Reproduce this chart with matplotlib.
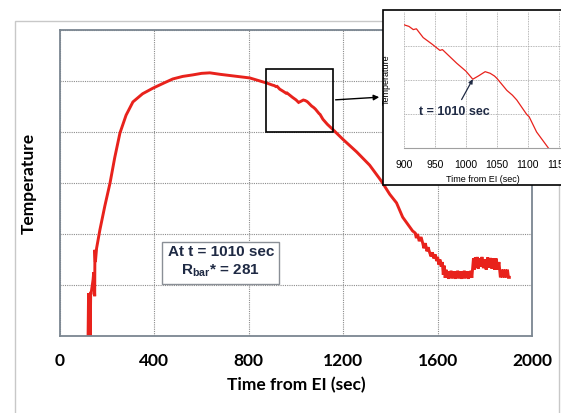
import numpy as np
import matplotlib.pyplot as plt
from matplotlib.patches import Rectangle

# Temperature trace (time from EI in sec, arbitrary temperature units)
time_rise = [119, 121, 122, 124, 125, 127, 128, 130, 132, 140, 143, 147, 148, 150, 155, 162, 169,
             190, 212, 232, 254, 280, 309, 350, 394, 440, 478, 520, 563, 600, 635, 680, 732, 770, 804, 840]
temp_rise = [0.0, 0.84, 0.0, 0.84, 0.0, 0.84, 0.0, 0.84, 0.84, 1.1, 1.25, 0.78, 1.69, 1.45, 1.72, 1.9, 2.08,
             2.55, 3.0, 3.5, 3.98, 4.33, 4.59, 4.75, 4.86, 4.96, 5.04, 5.09, 5.12, 5.15, 5.16, 5.13, 5.10, 5.08, 5.06, 5.01]

time_mid = [876, 900, 908, 915, 920, 931, 945, 958, 962, 985, 1000, 1011, 1020, 1031, 1039, 1046, 1050,
            1066, 1075, 1082, 1098, 1102, 1114, 1133, 1156, 1198, 1257, 1312, 1355, 1367, 1397, 1426, 1452, 1494]
temp_mid = [4.96, 4.92, 4.91, 4.89, 4.895, 4.84, 4.80, 4.76, 4.765, 4.68, 4.63, 4.58, 4.60, 4.627, 4.617, 4.60, 4.585,
            4.51, 4.48, 4.45, 4.36, 4.345, 4.25, 4.15, 4.05, 3.86, 3.61, 3.35, 3.08, 3.0, 2.78, 2.61, 2.33, 2.06]

time_tail = [1505, 1510, 1515, 1522, 1530, 1537, 1542, 1548, 1555, 1560, 1566, 1572, 1578, 1584, 1590, 1596,
             1600, 1605, 1610, 1615, 1620, 1624, 1628, 1632, 1636, 1640, 1643, 1647, 1650, 1654, 1657, 1661,
             1664, 1668, 1671, 1675, 1678, 1682, 1685, 1689, 1692, 1696, 1699, 1703, 1706, 1710, 1713, 1717,
             1720, 1724, 1727, 1731, 1734, 1738, 1741, 1745, 1748, 1752, 1755, 1760, 1764, 1768, 1772, 1776,
             1782, 1788, 1794, 1800, 1806, 1812, 1818, 1824, 1830, 1836, 1842, 1848, 1854, 1860, 1866, 1872,
             1876, 1880, 1884, 1888, 1892, 1896, 1900, 1904]
temp_tail = [2.02, 1.92, 2.0, 1.86, 1.94, 1.82, 1.72, 1.82, 1.66, 1.74, 1.64, 1.56, 1.64, 1.52, 1.6, 1.47,
             1.55, 1.4, 1.5, 1.36, 1.45, 1.2, 1.38, 1.14, 1.3, 1.14, 1.27, 1.12, 1.26, 1.15, 1.28, 1.13,
             1.25, 1.14, 1.27, 1.12, 1.26, 1.15, 1.28, 1.13, 1.27, 1.14, 1.25, 1.12, 1.27, 1.15, 1.28, 1.13,
             1.26, 1.14, 1.27, 1.12, 1.25, 1.15, 1.28, 1.14, 1.3, 1.52, 1.3, 1.54, 1.34, 1.55, 1.32, 1.52,
             1.36, 1.55, 1.33, 1.5, 1.3, 1.54, 1.34, 1.53, 1.32, 1.52, 1.3, 1.52, 1.3, 1.45, 1.15, 1.3,
             1.15, 1.3, 1.15, 1.3, 1.15, 1.3, 1.15, 1.15]

time = np.array(time_rise + time_mid + time_tail)
temp = np.array(temp_rise + temp_mid + temp_tail)

x_ticks = [0, 400, 800, 1200, 1600, 2000]
inset_ticks = [900, 950, 1000, 1050, 1100, 1150]

red = '#e8221c'
navy = '#1f2a44'
grid_col = '#8c8c8c'

fig = plt.figure(figsize=(5.61, 4.13), dpi=100)
fig.patches.append(Rectangle((15 / 561, -0.05), 544 / 561, (413 - 21) / 413 + 0.05,
                             transform=fig.transFigure, fill=False, edgecolor='#c8c8c8', lw=1))

ax = fig.add_axes([60 / 561, 77 / 413, 472 / 561, 306 / 413])
ax.plot(time, temp, color=red, lw=2.1, solid_joinstyle='miter')
ax.set_xlim(0, 2000)
ax.set_ylim(0, 6)
ax.set_xticks(x_ticks)
ax.set_xticklabels([str(v) for v in x_ticks], fontfamily='Lato', fontweight='bold', fontsize=12.5)
ax.set_yticks(range(7))
ax.set_yticklabels([])
ax.tick_params(length=0, pad=12)
ax.grid(True, color=grid_col, ls=(0, (1, 1)), lw=0.8)
for s in ax.spines.values():
    s.set_color('#7b8691')
    s.set_linewidth(1.3)
ax.set_xlabel('Time from EI (sec)', fontfamily='Lato', fontweight='bold', fontsize=12.5, labelpad=6)
ax.set_ylabel('Temperature', fontfamily='Lato', fontweight='bold', fontsize=12.5)
ax.yaxis.set_label_coords(-0.049, 0.5)

# zoom window
ax.add_patch(Rectangle((872, 4.0), 284, 1.24, fill=False, edgecolor='black', lw=1.2, zorder=5))
ax.annotate('', xy=(382 / 561, (413 - 97) / 413), xycoords='figure fraction',
            xytext=(1156, (336 - 100) / 51), textcoords='data',
            arrowprops=dict(arrowstyle='-|>', color='black', lw=1, mutation_scale=8))

ax.text(681, 1.45, 'At t = 1010 sec\nR$_{\\mathregular{bar}}$* = 281', ha='center', va='center',
        fontfamily='Liberation Sans', fontweight='bold', fontsize=11, color=navy, linespacing=1.2,
        bbox=dict(boxstyle='square,pad=0.35', facecolor='white', edgecolor='#8a8f96', lw=1))

# inset box and axes
fig.patches.append(Rectangle((383 / 561, (413 - 185) / 413), 0.4, 175 / 413,
                             transform=fig.transFigure, facecolor='white', edgecolor='black', lw=1.2, zorder=10))
ins = fig.add_axes([404 / 561, 265 / 413, 158 / 561, 136 / 413], zorder=11)
ins.plot(time, temp, color=red, lw=0.9)
ins.set_xlim(900, 1155)
ins.set_ylim(4.15, 5.0)
ins.set_xticks(inset_ticks)
ins.set_xticklabels([str(v) for v in inset_ticks], fontsize=7.5, fontfamily='Liberation Sans')
ins.set_yticks([4.3625, 4.575, 4.7875])
ins.set_yticklabels([])
ins.tick_params(length=0, pad=9)
ins.grid(True, color='#a0a0a0', ls=(0, (1, 1)), lw=0.6)
for s in ins.spines.values():
    s.set_visible(False)
ins.spines['bottom'].set_visible(True)
ins.spines['bottom'].set_color('#a0a0a0')
ins.set_xlabel('Time from EI (sec)', fontsize=6.5, fontfamily='Liberation Sans', labelpad=3)
ins.set_ylabel('Temperature', fontsize=6.5, fontfamily='Liberation Sans')
ins.yaxis.set_label_coords(-0.085, 0.5)
ins.annotate('t = 1010 sec', xy=(1011, 4.58), xytext=(982, 4.375), ha='center', va='center',
             fontsize=9, fontweight='bold', fontfamily='Liberation Sans', color=navy,
             arrowprops=dict(arrowstyle='-|>', color=navy, lw=0.9, mutation_scale=6, shrinkA=3, shrinkB=0))

fig.savefig('out.png', dpi=100)
